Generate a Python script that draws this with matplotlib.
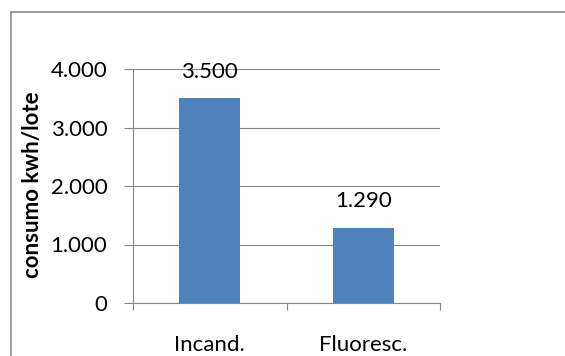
import matplotlib
matplotlib.use("Agg")
from matplotlib import pyplot as plt
from matplotlib.lines import Line2D
from matplotlib.ticker import FuncFormatter

# consumo por lote para cada tipo de lampada
categories = ["Incand.", "Fluoresc."]
consumo = [3500, 1290]
yticks = [0, 1000, 2000, 3000, 4000]

BAR_COLOR = "#4F81BD"
GRID_COLOR = "#868686"
FONT = "Lato"
SIZE = 16


def miles(v, pos=None):
    # separador de miles con punto
    return f"{v:,.0f}".replace(",", ".")


def plot_data(filename):
    plt.rcParams["font.family"] = [FONT, "DejaVu Sans"]
    fig = plt.figure(figsize=(5.65, 3.56), dpi=100)
    ax = fig.add_axes([133 / 565, 1 - 303 / 356, (440 - 133) / 565, (303 - 69) / 356])

    x = list(range(len(categories)))
    bars = ax.bar(x, consumo, width=0.4, color=BAR_COLOR, zorder=3)
    ax.bar_label(bars, labels=[miles(v) for v in consumo], padding=12,
                 fontsize=SIZE, color="black")

    ax.set_xlim(-0.5, len(categories) - 0.5)
    ax.set_ylim(0, 4000)
    ax.set_yticks(yticks)
    ax.yaxis.set_major_formatter(FuncFormatter(miles))
    ax.tick_params(axis="y", length=6.5, width=0.8, color=GRID_COLOR,
                   pad=12, labelsize=SIZE)

    # ticks en los limites de categoria, etiquetas en el centro
    ax.set_xticks([-0.5, 0.5, 1.5])
    ax.set_xticklabels([])
    ax.set_xticks(x, minor=True)
    ax.set_xticklabels(categories, minor=True)
    ax.tick_params(axis="x", which="major", length=5, width=0.8, color=GRID_COLOR)
    ax.tick_params(axis="x", which="minor", length=0, pad=23, labelsize=SIZE)

    ax.grid(axis="y", color=GRID_COLOR, linewidth=0.8, zorder=0)
    for side in ["top", "right"]:
        ax.spines[side].set_visible(False)
    for side in ["left", "bottom"]:
        ax.spines[side].set_color(GRID_COLOR)
        ax.spines[side].set_linewidth(0.8)

    fig.text(33 / 565, 1 - 185 / 356, "consumo kwh/lote", rotation=90,
             ha="center", va="center", fontsize=16, fontweight="bold")

    # marco del grafico: solo borde superior e izquierdo quedan dentro
    top = 1 - 11.5 / 356
    left = 10.5 / 565
    fig.lines.append(Line2D([left, 1], [top, top], transform=fig.transFigure,
                            color="#8C8C8C", linewidth=1.2))
    fig.lines.append(Line2D([left, left], [0, top], transform=fig.transFigure,
                            color="#8C8C8C", linewidth=1.2))

    fig.savefig(filename, dpi=100)
    plt.close(fig)


def main():
    plot_data("out.png")


if __name__ == "__main__":
    main()
